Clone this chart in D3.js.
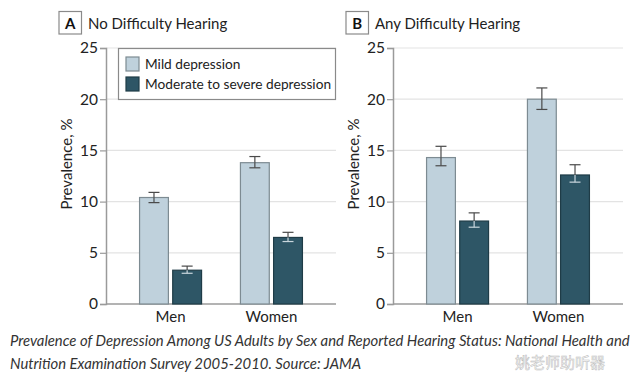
<!DOCTYPE html>
<html>
<head>
<meta charset="utf-8">
<script src="https://cdn.jsdelivr.net/npm/d3@7"></script>
<style>
  html, body { margin: 0; padding: 0; background: #fff; }
  svg { display: block; }
  text { font-family: Lato, "Open Sans", sans-serif; }
</style>
</head>
<body>
<svg id="chart" width="640" height="376"></svg>
<script>
// ---- data ----
const sexes = ["Men", "Women"];
const severities = ["Mild depression", "Moderate to severe depression"];
const panelLetters = ["A", "B"];
const panelTitles = ["No Difficulty Hearing", "Any Difficulty Hearing"];
const yTicks = [0, 5, 10, 15, 20, 25];
// values [panel][sex][severity]
const noDiffMild     = [10.4, 13.8];
const noDiffModerate = [3.3, 6.5];
const anyDiffMild     = [14.3, 20.0];
const anyDiffModerate = [8.1, 12.6];
// 95% CI lower / upper
const noDiffMildLo = [9.9, 13.3],  noDiffMildHi = [10.9, 14.4];
const noDiffModLo  = [3.0, 6.1],   noDiffModHi  = [3.7, 7.0];
const anyDiffMildLo = [13.5, 19.0], anyDiffMildHi = [15.4, 21.1];
const anyDiffModLo  = [7.5, 11.9],  anyDiffModHi  = [8.9, 13.6];
const captionLines = [
  "Prevalence of Depression Among US Adults by Sex and Reported Hearing Status: National Health and",
  "Nutrition Examination Survey 2005-2010. Source: JAMA"
];
const watermark = "姚老师助听器";

const panels = [
  { letter: panelLetters[0], title: panelTitles[0],
    values: [noDiffMild, noDiffModerate], lo: [noDiffMildLo, noDiffModLo], hi: [noDiffMildHi, noDiffModHi] },
  { letter: panelLetters[1], title: panelTitles[1],
    values: [anyDiffMild, anyDiffModerate], lo: [anyDiffMildLo, anyDiffModLo], hi: [anyDiffMildHi, anyDiffModHi] }
];

// ---- styles ----
const fills = ["#bfd1dc", "#2e5666"];
const strokes = ["#7d8b92", "#1f3c47"];
const errInside = ["#4a4a4a", "#c9d6dd"];
const errColor = "#4a4a4a";

const svg = d3.select("#chart");
const y = d3.scaleLinear().domain([0, 25]).range([304, 48]);
const panelX = [106, 393];
const panelW = 230;

panels.forEach((p, pi) => {
  const x0 = panelX[pi];
  const g = svg.append("g");
  const x = d3.scalePoint().domain(sexes).range([x0, x0 + panelW]).padding(0.64);
  const xs = d3.scaleBand().domain(severities).range([-31, 31]).paddingInner(0.13);

  // gridlines
  g.append("g").selectAll("line").data(yTicks.filter(t => t > 0)).join("line")
    .attr("x1", x0).attr("x2", x0 + panelW)
    .attr("y1", d => y(d)).attr("y2", d => y(d))
    .attr("stroke", "#e3e3e3").attr("stroke-width", 1.2);

  // y axis
  const ya = g.append("g").attr("transform", `translate(${x0},0)`)
    .call(d3.axisLeft(y).tickValues(yTicks).tickSize(6).tickPadding(2));
  ya.select(".domain").attr("stroke", "#9a9a9a").attr("stroke-width", 1.5);
  ya.selectAll(".tick line").attr("stroke", "#9a9a9a").attr("stroke-width", 1.2);
  ya.selectAll(".tick text").attr("fill", "#222").style("font-size", "15.5px").style("font-family", "Lato, sans-serif");

  // baseline
  g.append("line").attr("x1", x0).attr("x2", x0 + panelW)
    .attr("y1", y(0)).attr("y2", y(0)).attr("stroke", "#9a9a9a").attr("stroke-width", 1.5);

  // x labels
  g.append("g").selectAll("text").data(sexes).join("text")
    .attr("x", d => x(d)).attr("y", 322)
    .attr("text-anchor", "middle").attr("fill", "#222")
    .style("font-size", "15px").text(d => d);

  // y label
  g.append("text")
    .attr("transform", `translate(${x0 - 34},164) rotate(-90)`)
    .attr("text-anchor", "middle").attr("fill", "#222")
    .style("font-size", "15px").text("Prevalence, %");

  // bars
  severities.forEach((s, si) => {
    sexes.forEach((sex, ci) => {
      const v = p.values[si][ci];
      const bx = x(sex) + xs(s);
      const bw = xs.bandwidth();
      g.append("rect")
        .attr("x", bx).attr("y", y(v))
        .attr("width", bw).attr("height", y(0) - y(v))
        .attr("fill", fills[si]).attr("stroke", strokes[si]).attr("stroke-width", 1.2);
      const cx = bx + bw / 2;
      const lo = p.lo[si][ci], hi = p.hi[si][ci];
      const cap = 5.5;
      g.append("line").attr("x1", cx).attr("x2", cx).attr("y1", y(hi)).attr("y2", y(v))
        .attr("stroke", errColor).attr("stroke-width", 1.2);
      g.append("line").attr("x1", cx - cap).attr("x2", cx + cap).attr("y1", y(hi)).attr("y2", y(hi))
        .attr("stroke", errColor).attr("stroke-width", 1.2);
      g.append("line").attr("x1", cx).attr("x2", cx).attr("y1", y(v)).attr("y2", y(lo))
        .attr("stroke", errInside[si]).attr("stroke-width", 1.2);
      g.append("line").attr("x1", cx - cap).attr("x2", cx + cap).attr("y1", y(lo)).attr("y2", y(lo))
        .attr("stroke", errInside[si]).attr("stroke-width", 1.2);
    });
  });

  // panel letter box + title
  const bxL = x0 - 47;
  g.append("rect").attr("x", bxL).attr("y", 11.5).attr("width", 22.5).attr("height", 22.5)
    .attr("fill", "#fff").attr("stroke", "#8a8a8a").attr("stroke-width", 1.2);
  g.append("text").attr("x", bxL + 11.25).attr("y", 28.5).attr("text-anchor", "middle")
    .attr("fill", "#111").style("font-size", "15px").style("font-weight", "bold").text(p.letter);
  g.append("text").attr("x", bxL + 29).attr("y", 29).attr("fill", "#222")
    .style("font-size", "15px").text(p.title);
});

// legend (panel A)
const lg = svg.append("g");
lg.append("rect").attr("x", 118.5).attr("y", 48.5).attr("width", 217).attr("height", 51)
  .attr("fill", "#fff").attr("stroke", "#8a8a8a").attr("stroke-width", 1.2);
severities.forEach((s, si) => {
  const yy = 57 + si * 20;
  lg.append("rect").attr("x", 126).attr("y", yy).attr("width", 13).attr("height", 14)
    .attr("fill", fills[si]).attr("stroke", strokes[si]).attr("stroke-width", 1.2);
  lg.append("text").attr("x", 145).attr("y", yy + 12).attr("fill", "#222")
    .style("font-size", "13.7px").text(s);
});

// caption
svg.append("g").selectAll("text").data(captionLines).join("text")
  .attr("x", 10).attr("y", (d, i) => 346 + i * 23)
  .attr("fill", "#333").style("font-size", "14.85px").style("font-style", "italic")
  .text(d => d);

// watermark (placed just below the first caption line so it does not cover it)
svg.append("text").attr("x", 515).attr("y", 368)
  .attr("fill", "#fff").attr("stroke", "#aaa").attr("stroke-width", 0.5).attr("opacity", 0.8)
  .style("font-family", "'Noto Sans CJK SC', sans-serif").style("font-size", "15px")
  .text(watermark);
</script>
</body>
</html>
